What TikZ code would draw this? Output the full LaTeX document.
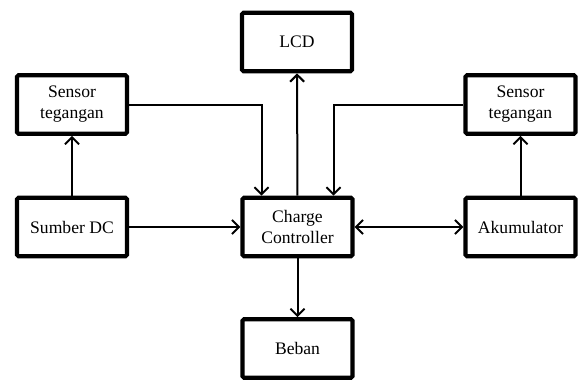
\documentclass[tikz,border=0pt]{standalone}
\usepackage{fontspec}
\setmainfont{Liberation Serif}
\usetikzlibrary{arrows.meta}
\tikzset{
  blok/.style={draw, line width=4.2pt, rounded corners=1.5pt,
    minimum width=110pt, minimum height=58.5pt, align=center,
    font=\fontsize{17.6}{21}\selectfont},
  panah/.style={line width=2pt, -{Straight Barb[length=7pt,width=14pt,line width=2pt]}},
  duapanah/.style={line width=2pt, {Straight Barb[length=7pt,width=14pt,line width=2pt]}-{Straight Barb[length=7pt,width=14pt,line width=2pt]}}
}
\begin{document}
\begin{tikzpicture}[x=1pt, y=-1pt]
  \useasboundingbox (0,0) rectangle (582,380);
  % blok
  \node[blok] (lcd)   at (297,42)     {LCD};
  \node[blok] (sensL) at (72,104.5)   {Sensor\\tegangan};
  \node[blok] (sensR) at (520.5,104.5){Sensor\\tegangan};
  \node[blok] (dc)    at (72,227)     {Sumber DC};
  \node[blok] (ctrl)  at (297.5,227)  {Charge\\Controller};
  \node[blok] (aki)   at (520.5,227)  {Akumulator};
  \node[blok] (beban) at (297.5,348.5){Beban};
  % panah
  \draw[panah] (dc) -- (sensL);
  \draw[panah] (aki) -- (sensR);
  \draw[panah] (dc) -- (ctrl);
  \draw[duapanah] (ctrl) -- (aki);
  \draw[panah] (ctrl) -- (lcd);
  \draw[panah] (ctrl) -- (beban);
  \draw[panah] (sensL.east) -| ([xshift=-36pt]ctrl.north);
  \draw[panah] (sensR.west) -| ([xshift=36pt]ctrl.north);
\end{tikzpicture}
\end{document}
